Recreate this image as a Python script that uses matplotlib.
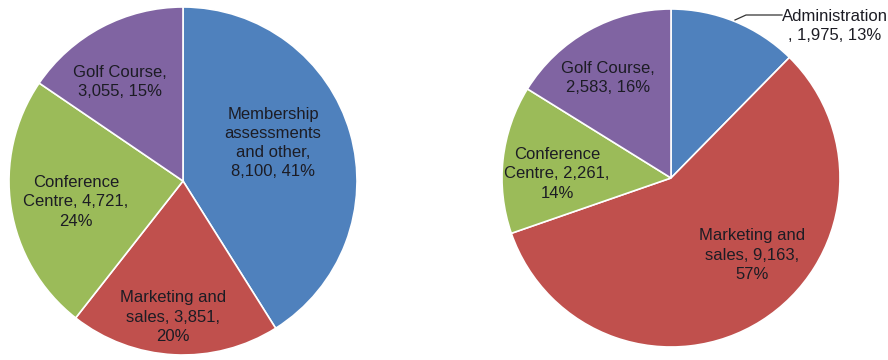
import matplotlib
matplotlib.use("Agg")
import matplotlib.pyplot as plt

plt.rcParams['font.family'] = ['Liberation Sans', 'DejaVu Sans']

# ---- data ----
left_labels = ["Membership\nassessments\nand other,\n{v}, {p}%",
               "Marketing and\nsales, {v},\n{p}%",
               "Conference\nCentre, {v},\n{p}%",
               "Golf Course,\n{v}, {p}%"]
left_values = [8100, 3851, 4721, 3055]
left_pcts = [41, 20, 24, 15]

right_labels = ["Administration\n, {v}, {p}%",
                "Marketing and\nsales, {v},\n{p}%",
                "Conference\nCentre, {v},\n{p}%",
                "Golf Course,\n{v}, {p}%"]
right_values = [1975, 9163, 2261, 2583]
right_pcts = [13, 57, 14, 16]

colors = ["#4F81BD", "#C0504D", "#9BBB59", "#8064A2"]

# ---- layout ----
W, H = 888, 360
fig = plt.figure(figsize=(W / 100, H / 100), dpi=100)


def make_ax(cx, cy, r):
    return fig.add_axes([(cx - r) / W, (H - cy - r) / H, 2 * r / W, 2 * r / H])


def to_data(px, py, cx, cy, r):
    return (px - cx) / r, (cy - py) / r


txt_kw = dict(fontsize=12, color="#1c1c24", ha="center", va="center",
              linespacing=1.36)

# left pie
lcx, lcy, lr = 183, 181, 174
axl = make_ax(lcx, lcy, lr)
axl.pie(left_values, colors=colors, startangle=90, counterclock=False,
        wedgeprops=dict(edgecolor="white", linewidth=1.2), radius=1)
axl.set_xlim(-1, 1); axl.set_ylim(-1, 1); axl.set_aspect("equal")
axl.axis("off")
left_pos = [(273, 143), (173, 317), (76, 202), (120, 82)]
for lab, v, p, (px, py) in zip(left_labels, left_values, left_pcts, left_pos):
    x, y = to_data(px, py, lcx, lcy, lr)
    axl.text(x, y, lab.format(v=f"{v:,}", p=p), **txt_kw)

# right pie
rcx, rcy, rr = 671, 178, 169
axr = make_ax(rcx, rcy, rr)
axr.pie(right_values, colors=colors, startangle=90, counterclock=False,
        wedgeprops=dict(edgecolor="white", linewidth=1.2), radius=1)
axr.set_xlim(-1, 1); axr.set_ylim(-1, 1); axr.set_aspect("equal")
axr.axis("off")
right_pos = [(835, 26), (752, 255), (557, 174), (608, 78)]
for lab, v, p, (px, py) in zip(right_labels, right_values, right_pcts, right_pos):
    x, y = to_data(px, py, rcx, rcy, rr)
    axr.text(x, y, lab.format(v=f"{v:,}", p=p), clip_on=False, **txt_kw)

# leader line for Administration label
x0, y0 = to_data(735, 20, rcx, rcy, rr)
x1, y1 = to_data(746, 15, rcx, rcy, rr)
x2, y2 = to_data(782, 15, rcx, rcy, rr)
axr.plot([x0, x1, x2], [y0, y1, y2], color="#333333", lw=0.9, clip_on=False)

fig.savefig("out.png", dpi=100, facecolor="white")
